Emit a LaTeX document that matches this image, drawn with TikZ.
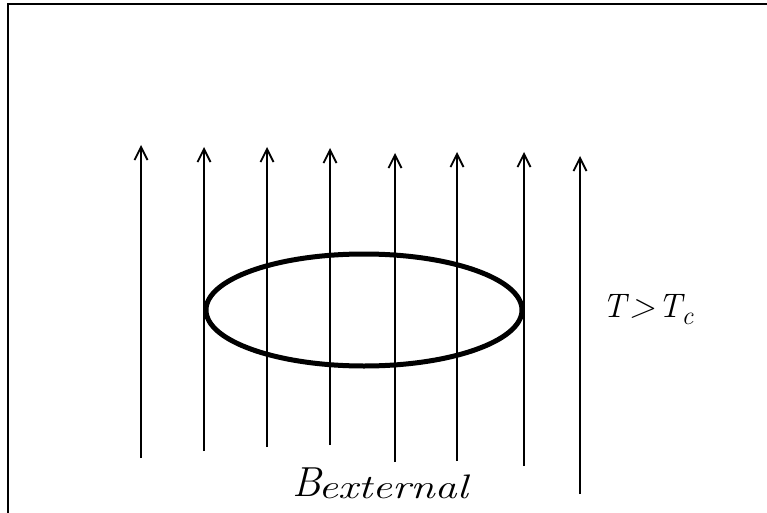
\documentclass[tikz,border=0pt]{standalone}
\usepackage{fontspec}
\usetikzlibrary{arrows.meta,shapes.geometric}
\begin{document}
\begin{tikzpicture}[x=1pt,y=-1pt,
  fieldline/.style={line width=1.2pt,-{Straight Barb[length=13pt,width=13pt,line width=1.8pt]}},
  loopring/.style={line width=5pt},
  lbl/.style={inner sep=0pt,anchor=base west,font=\fontsize{34}{34}\selectfont\itshape}]
\useasboundingbox (0,0) rectangle (767,513);
\draw[line width=2.5pt] (8,513) -- (8,4) -- (767,4);
% field lines
\foreach \i/\x/\yt/\yb in {1/141/145/458,2/204/147/451,3/267/147/447,4/330/148/445,5/395/153/462,6/457/152/461,7/524/152/466,8/580/156/494}{
  \coordinate (b\i) at (\x,\yb);
  \coordinate (t\i) at (\x,\yt);
  \draw[fieldline] (b\i) -- (t\i);
}
% superconducting ring
\node[draw,loopring,ellipse,minimum width=316pt,minimum height=112pt,inner sep=0pt] (ring) at (364,310) {};
\node[lbl] (T) at (602,317) {T\kern3pt>\kern3pt T\raisebox{-7pt}{\fontsize{26}{26}\selectfont c}};
\node[lbl] (B) at (292,496) {{\fontsize{42}{42}\selectfont B}\kern-3pt\raisebox{-2pt}{\scalebox{1.3}[1]{external}}};
\end{tikzpicture}
\end{document}
